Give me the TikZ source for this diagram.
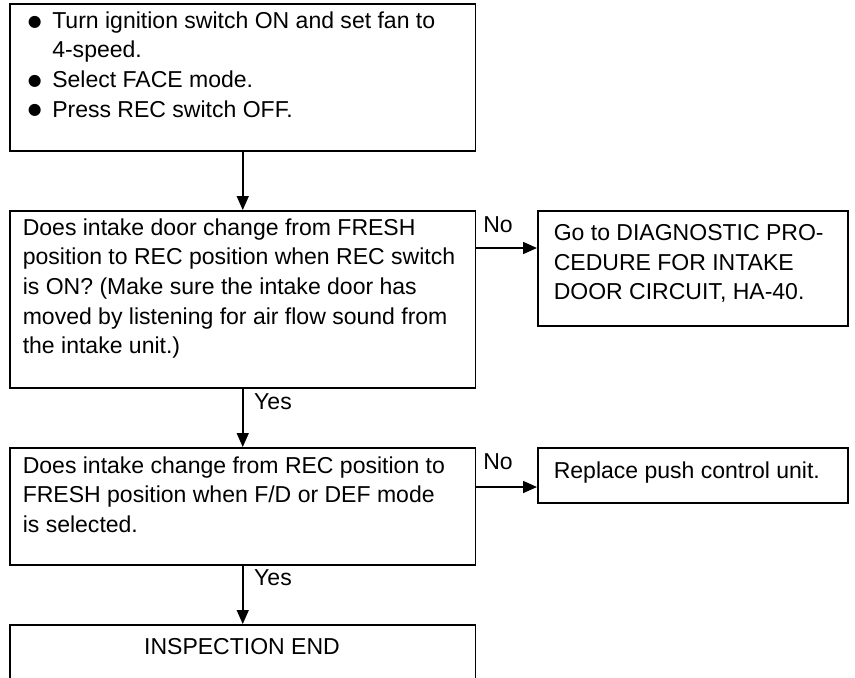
\documentclass[tikz,border=0pt]{standalone}
\usepackage{fontspec}
\setmainfont{Liberation Sans}
\newfontfamily\dotfont{DejaVu Sans}
\usetikzlibrary{arrows.meta,positioning}

\newcommand{\bul}{\makebox[0.49cm][l]{\smash{\raisebox{1.3pt}{\dotfont\fontsize{9}{9}\selectfont ●}}}}
\newcommand{\nobul}{\makebox[0.49cm][l]{}}

\begin{document}
\begin{tikzpicture}[x=0.02cm, y=-0.02cm, line width=0.9pt,
  box/.style={draw, rectangle, inner sep=0pt, anchor=north west},
  txt/.style={inner sep=0pt, anchor=north west, align=left, font=\fontsize{13.1}{16.8}\selectfont},
  lbl/.style={inner sep=0pt, font=\fontsize{13.1}{16.8}\selectfont},
  flow/.style={-{Triangle[length=0.28cm, width=0.24cm]}}]
  \clip (0,0) rectangle (855,677);

  % boxes
  \node[box, minimum width=9.32cm, minimum height=2.94cm] (start) at (9,3) {};
  \node[box, minimum width=9.32cm, minimum height=3.54cm] (check1) at (9,210) {};
  \node[box, minimum width=6.2cm, minimum height=2.3cm] (diag) at (537,210) {};
  \node[box, minimum width=9.32cm, minimum height=2.34cm] (check2) at (9,447) {};
  \node[box, minimum width=6.2cm, minimum height=1.1cm] (replace) at (537,447) {};
  \node[box, minimum width=9.32cm, minimum height=1.6cm] (done) at (9,624) {};

  % texts
  \node[txt] (start text) at (27,11) {\bul Turn ignition switch ON and set fan to\\
    \nobul 4-speed.\\
    \bul Select FACE mode.\\
    \bul Press REC switch OFF.};
  \node[txt] (check1 text) at (22,218) {Does intake door change from FRESH\\
    position to REC position when REC switch\\
    is ON? (Make sure the intake door has\\
    moved by listening for air flow sound from\\
    the intake unit.)};
  \node[txt] (diag text) at (553,224) {Go to DIAGNOSTIC PRO-\\
    CEDURE FOR INTAKE\\
    DOOR CIRCUIT, HA-40.};
  \node[txt] (check2 text) at (22,456) {Does intake change from REC position to\\
    FRESH position when F/D or DEF mode\\
    is selected.};
  \node[txt] (replace text) at (553,461) {Replace push control unit.};
  \node[lbl] (done text) at (242,647) {INSPECTION END};

  % connectors
  \coordinate (no1) at (475,248);
  \coordinate (no2) at (475,487);
  \draw[flow] (start.south) -- (check1.north);
  \draw[flow] (check1.south) -- (check2.north);
  \draw[flow] (check2.south) -- (done.north);
  \draw[flow] (no1) -- (no1 -| diag.west);
  \draw[flow] (no2) -- (no2 -| replace.west);

  % labels
  \node[lbl] at (498,225) {No};
  \node[lbl] at (498,462) {No};
  \node[lbl] at (273,402) {Yes};
  \node[lbl] at (273,578) {Yes};
\end{tikzpicture}
\end{document}
